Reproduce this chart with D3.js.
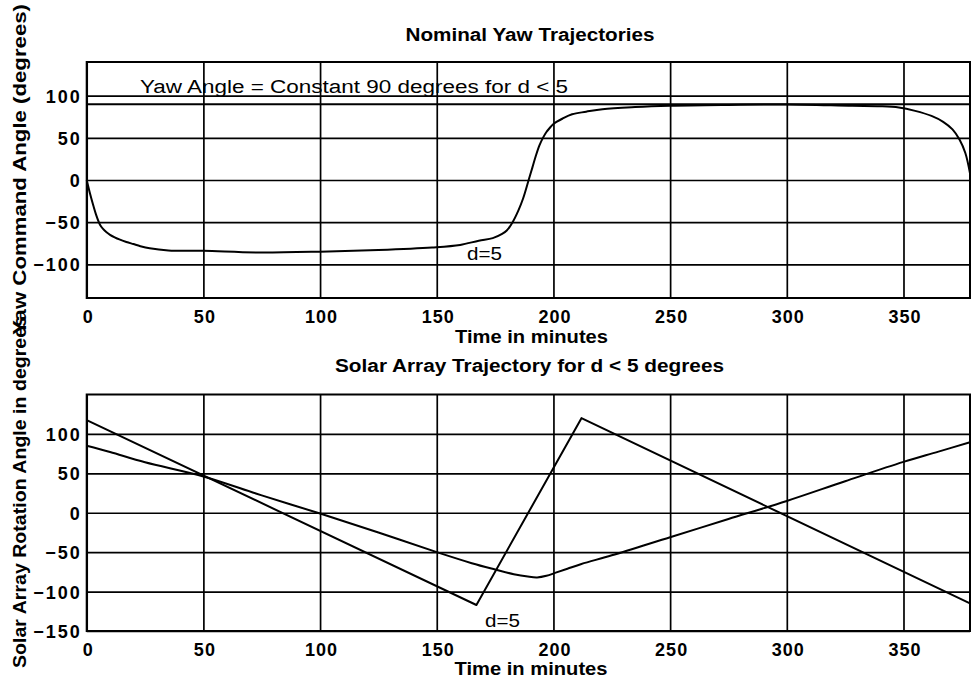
<!DOCTYPE html>
<html>
<head>
<meta charset="utf-8">
<script src="https://cdn.jsdelivr.net/npm/d3@7/dist/d3.min.js"></script>
<style>
  html, body { margin: 0; padding: 0; background: #fff; }
  svg { display: block; }
  text { font-family: "Liberation Sans", Arial, Helvetica, sans-serif; fill: #000; }
</style>
</head>
<body>
<svg id="chart" width="976" height="691"></svg>
<script>
// ---------- DATA ----------
const xTicks = [0, 50, 100, 150, 200, 250, 300, 350];
const yawTicks = [-100, -50, 0, 50, 100];
const solarTicks = [-150, -100, -50, 0, 50, 100];

// Top plot: yaw command angle for d=5
const yawTime = [0, 1.5, 2.8, 4, 5.7, 7, 8.5, 10, 12, 14, 17, 20, 23, 27, 35, 50, 73, 100, 125, 148, 160, 168, 174, 178, 180, 182.5, 185, 187, 189.6, 191, 192.5, 194, 195.5, 197, 198.5, 200, 204, 208, 214, 221, 235, 250, 275, 300, 328, 340, 348, 355, 362, 367, 371, 374, 376.5, 378.5];
const yawAngle = [0, -17, -30, -41, -53, -58, -62, -65, -68, -70.5, -73.5, -76, -78.5, -81, -83.5, -84, -86, -85, -83, -80, -77, -72, -69, -64, -60, -50, -36, -22, 2, 15, 29, 41, 50, 57, 62, 66.5, 73, 78, 81, 84, 86.5, 88, 89, 89.5, 88, 87.5, 86, 82, 76, 69, 60, 48, 32, 8];
const yawConstant = 90;

// Bottom plot: solar array rotation angle
const solarTimeA = [0, 167, 212, 378.5];
const solarAngleA = [117.5, -117, 120, -115];
const solarTimeB = [0, 10, 25, 50, 75, 100, 125, 150, 165, 175, 183, 189, 193, 197, 201, 206, 212, 225, 250, 275, 300, 325, 350, 365, 378.5];
const solarAngleB = [85, 77, 64, 46, 22, -1, -25, -50, -64, -72, -78, -81, -82, -80, -76, -71, -65, -54, -31, -8, 15, 40, 64.5, 77.5, 89.5];

// ---------- LAYOUT ----------
const svg = d3.select("#chart");
const plotLeft = 86.7, plotRight = 970;
const xDomain = [0, 378.5];

function drawPanel(cfg) {
  const x = d3.scaleLinear().domain(xDomain).range([plotLeft, plotRight]);
  const y = d3.scaleLinear().domain(cfg.yDomain).range([cfg.bottom, cfg.top]);
  const g = svg.append("g");

  // grid
  g.append("g").attr("transform", `translate(0,${cfg.bottom})`)
    .call(d3.axisBottom(x).tickValues(xTicks).tickSize(-(cfg.bottom - cfg.top)).tickFormat(""))
    .call(s => s.select(".domain").remove())
    .call(s => s.selectAll("line").attr("stroke", "#000").attr("stroke-width", 1.7));
  g.append("g").attr("transform", `translate(${plotLeft},0)`)
    .call(d3.axisLeft(y).tickValues(cfg.yTicks).tickSize(-(plotRight - plotLeft)).tickFormat(""))
    .call(s => s.select(".domain").remove())
    .call(s => s.selectAll("line").attr("stroke", "#000").attr("stroke-width", 1.7));

  // tick labels
  g.append("g").attr("transform", `translate(0,${cfg.bottom + 25})`)
    .call(d3.axisBottom(x).tickValues(xTicks).tickSize(0).tickPadding(0))
    .call(s => s.select(".domain").remove())
    .call(s => s.selectAll("text").attr("dy", 0).attr("dx", 1)
      .style("font-size", "18px").style("font-weight", "bold").style("letter-spacing", "1px"));
  g.append("g").attr("transform", `translate(${plotLeft - 5},0)`)
    .call(d3.axisLeft(y).tickValues(cfg.yTicks).tickSize(0).tickPadding(0))
    .call(s => s.select(".domain").remove())
    .call(s => s.selectAll("text").attr("dy", "0.36em").attr("dx", 0)
      .style("font-size", "18px").style("font-weight", "bold").style("letter-spacing", "2px"));

  // lines
  const lineGen = d3.line().x(d => x(d[0])).y(d => y(d[1]));
  cfg.series.forEach(sr => {
    const pts = sr.t.map((t, i) => [t, sr.v[i]]);
    g.append("path").datum(pts)
      .attr("fill", "none").attr("stroke", "#000").attr("stroke-width", 2)
      .attr("stroke-linejoin", "round")
      .attr("d", lineGen.curve(sr.smooth ? d3.curveCatmullRom.alpha(0.5) : d3.curveLinear));
  });

  // frame
  g.append("rect").attr("x", plotLeft).attr("y", cfg.top)
    .attr("width", plotRight - plotLeft).attr("height", cfg.bottom - cfg.top)
    .attr("fill", "none").attr("stroke", "#000").attr("stroke-width", 2);

  return { x, y, g };
}

function label(txt, x, y, len, opts = {}) {
  const t = svg.append("text").text(txt)
    .attr("x", x).attr("y", y)
    .attr("text-anchor", opts.anchor || "start")
    .attr("textLength", len).attr("lengthAdjust", "spacingAndGlyphs")
    .style("font-size", (opts.size || 18) + "px")
    .style("font-weight", opts.bold ? "bold" : "normal");
  if (opts.rotate) t.attr("transform", `rotate(-90,${x},${y})`);
  return t;
}

// Top panel
drawPanel({
  top: 62, bottom: 298, yDomain: [-140, 140], yTicks: yawTicks,
  series: [
    { t: xDomain, v: [yawConstant, yawConstant], smooth: false },
    { t: yawTime, v: yawAngle, smooth: true }
  ]
});

// Bottom panel
drawPanel({
  top: 394.5, bottom: 631, yDomain: [-150, 150], yTicks: solarTicks,
  series: [
    { t: solarTimeA, v: solarAngleA, smooth: false },
    { t: solarTimeB, v: solarAngleB, smooth: true }
  ]
});

// Texts
label("Nominal Yaw Trajectories", 530, 41, 249, { anchor: "middle", bold: true });
label("Yaw Angle = Constant 90 degrees for d < 5", 140, 93, 428);
label("d=5", 467, 260, 35);
label("Time in minutes", 531.5, 343, 153, { anchor: "middle", bold: true });
label("Solar Array Trajectory for d < 5 degrees", 529.5, 372, 389, { anchor: "middle", bold: true });
label("d=5", 485, 627, 35);
label("Time in minutes", 531, 675, 153, { anchor: "middle", bold: true });
label("Yaw Command Angle (degrees)", 26, 335, 331, { rotate: true, bold: true });
label("Solar Array Rotation Angle in degrees", 26, 668, 352, { rotate: true, bold: true });
</script>
</body>
</html>
